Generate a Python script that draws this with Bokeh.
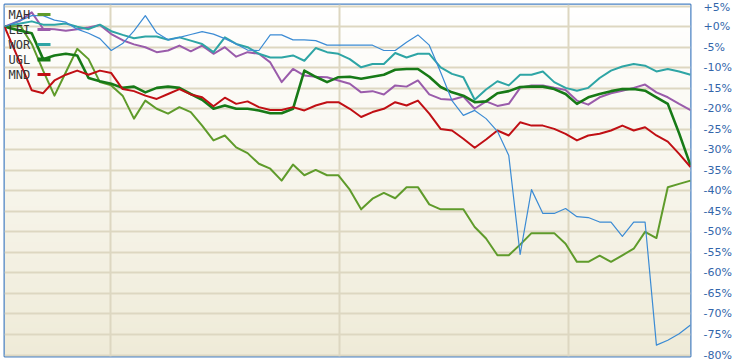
import numpy as np
from bokeh.plotting import figure
from bokeh.models import FixedTicker, Range1d, Label, BoxAnnotation, CustomJSTickFormatter
from bokeh.embed import file_html
from bokeh.resources import INLINE

# ---- data (percent change, weekly points) ----
weeks = [0] + [i + 0.4 for i in range(1, 61)]

mah = [0, 0.2, -4.2, -10.7, -16.8, -11.1, -5.4, -7.9, -13.5, -14.3, -16.8, -22.4, -18.0, -20.0, -21.2,
       -19.6, -20.8, -24.1, -27.7, -26.5, -29.4, -30.8, -33.4, -34.6, -37.5, -33.6, -36.2, -34.9, -36.2,
       -36.2, -39.7, -44.5, -41.9, -40.5, -41.8, -39.1, -39.1, -43.3, -44.5, -44.5, -44.5, -48.8, -51.6,
       -55.7, -55.7, -53.1, -50.3, -50.3, -50.3, -52.9, -57.3, -57.3, -55.8, -57.3, -55.7, -54.1, -50.0,
       -51.5, -39.1, -38.3, -37.5]
lei = [0, 1.5, 3.5, -0.5, -0.6, -1.0, -0.6, -0.2, 0.4, -1.8, -3.3, -4.3, -5.0, -6.2, -5.8, -4.6, -6.0,
       -4.6, -6.6, -5.0, -7.3, -6.2, -6.6, -8.7, -13.5, -10.3, -11.9, -12.2, -12.3, -13.1, -13.9, -16.0,
       -15.7, -16.5, -14.3, -14.6, -13.1, -16.5, -17.6, -17.8, -17.0, -20.0, -18.2, -19.3, -18.8, -14.9,
       -14.3, -14.3, -14.9, -15.4, -18.0, -19.0, -17.2, -16.2, -15.6, -14.9, -14.1, -16.0, -17.2, -18.8,
       -20.3]
wor = [0, 0.8, 1.3, 0.5, 0.5, 0.8, 0, -0.6, 0.5, -1.1, -2.0, -2.8, -2.4, -2.4, -3.2, -2.6, -3.4, -4.2,
       -6.2, -2.6, -4.2, -5.0, -6.6, -7.5, -7.5, -7.0, -8.3, -5.2, -6.2, -6.6, -7.9, -9.9, -9.1, -9.1,
       -6.4, -7.5, -6.6, -6.6, -9.9, -11.5, -12.3, -17.8, -15.3, -13.3, -14.3, -11.7, -11.7, -10.9, -13.5,
       -14.9, -15.6, -14.9, -12.5, -10.7, -9.7, -9.1, -9.5, -10.9, -10.3, -10.9, -11.7]
ugl = [0, -1.0, -1.6, -7.9, -7.0, -6.6, -7.0, -12.5, -13.3, -13.9, -14.9, -14.6, -16.0, -14.9, -14.6,
       -14.9, -16.4, -17.8, -20.0, -19.2, -20.0, -20.0, -20.4, -21.1, -21.1, -20.0, -10.7, -12.2, -13.5,
       -12.3, -12.2, -12.7, -12.2, -11.7, -10.5, -10.3, -10.3, -12.2, -14.7, -16.0, -16.8, -18.4, -18.2,
       -16.2, -15.7, -14.7, -14.6, -14.6, -15.2, -16.4, -18.8, -17.2, -16.4, -15.7, -15.2, -15.2, -15.6,
       -17.2, -18.8, -26.0, -33.8]
mnd = [0, -9.0, -15.5, -16.2, -13.1, -11.7, -10.7, -11.7, -10.7, -11.3, -15.2, -15.7, -16.8, -17.6,
       -16.4, -15.2, -16.5, -17.2, -19.4, -17.3, -18.8, -18.2, -19.6, -20.3, -20.3, -19.6, -20.4, -19.2,
       -18.4, -18.4, -20.0, -22.0, -20.8, -20.0, -18.4, -19.2, -18.0, -21.2, -24.9, -25.3, -27.3, -29.5,
       -27.5, -25.3, -26.5, -23.3, -24.1, -24.1, -24.9, -26.1, -27.7, -26.5, -26.1, -25.3, -24.1, -25.3,
       -24.5, -26.5, -28.0, -31.0, -34.2]
index = [0, 1.5, 2.7, 2.7, 1.6, 1.1, -0.6, -1.6, -2.9, -5.8, -4.1, -1.0, 2.7, -1.5, -3.2, -2.6, -1.9,
         -1.2, -1.8, -2.9, -4.2, -5.7, -5.8, -2.0, -2.0, -3.2, -3.2, -3.4, -4.5, -4.5, -4.5, -4.5, -4.5,
         -5.8, -5.8, -3.8, -2.0, -4.5, -11.1, -18.0, -21.6, -20.4, -22.4, -25.5, -31.4, -55.5, -39.7,
         -45.5, -45.5, -44.3, -46.3, -46.5, -47.6, -47.6, -51.1, -47.6, -47.6, -77.6, -76.4, -74.8, -72.7]

legend_names = ["MAH", "LEI", "WOR", "UGL", "MND"]
y_ticks = [5, 0, -5, -10, -15, -20, -25, -30, -35, -40, -45, -50, -55, -60, -65, -70, -75, -80]
x_grid_ticks = [9.33, 29.5, 49.67]

# ---- styles ----
series = [
    ("LEI", lei, "#9a5cab", 2.0),
    ("WOR", wor, "#2ea5a5", 2.0),
    ("MAH", mah, "#5f9b2b", 2.0),
    ("UGL", ugl, "#177a17", 2.6),
    ("MND", mnd, "#c00f14", 2.0),
    ("IDX", index, "#3b8bd4", 1.2),
]
colors = {name: c for name, _, c, _ in series}
widths = {name: w for name, _, _, w in series}

x_start, x_end = 0, weeks[-1]
y_start, y_end = -80.36, 5.41

p = figure(width=737, height=364, output_backend="svg", toolbar_location=None,
           x_range=Range1d(x_start, x_end), y_range=Range1d(y_start, y_end),
           x_axis_location=None, y_axis_location="right",
           min_border_left=4, min_border_top=4, min_border_bottom=8, min_border_right=47)

p.background_fill_color = "#f8f6ee"
p.border_fill_color = "#ffffff"
p.outline_line_color = "#4a82c4"
p.outline_line_width = 2

# vertical gradient background (white top -> cream bottom)
rows = 176
t = np.linspace(0.0, 1.0, rows)[:, None]
bottom_c = np.array([239, 235, 216], dtype=float)
top_c = np.array([255, 255, 255], dtype=float)
img = np.empty((rows, 1), dtype=np.uint32)
view = img.view(dtype=np.uint8).reshape((rows, 1, 4))
for k in range(3):
    view[:, :, k] = np.round(bottom_c[k] + (top_c[k] - bottom_c[k]) * t).astype(np.uint8)
view[:, :, 3] = 255
p.image_rgba(image=[img], x=x_start, y=y_start, dw=x_end - x_start, dh=y_end - y_start, level="image")

# grids
p.ygrid.ticker = FixedTicker(ticks=y_ticks)
p.ygrid.grid_line_color = "#ddd7c1"
p.ygrid.grid_line_width = 2
p.xgrid.ticker = FixedTicker(ticks=x_grid_ticks)
p.xgrid.grid_line_color = "#ddd7c1"
p.xgrid.grid_line_width = 2

# right axis
ax = p.yaxis[0]
ax.ticker = FixedTicker(ticks=y_ticks)
ax.formatter = CustomJSTickFormatter(code="return (tick >= 0 ? '+' : '') + tick.toFixed(0) + '%';")
ax.axis_line_color = None
ax.major_tick_line_color = None
ax.minor_tick_line_color = None
ax.major_tick_out = 0
ax.major_tick_in = 0
ax.major_label_standoff = 13
ax.major_label_text_color = "#3366aa"
ax.major_label_text_font = "DejaVu Sans"
ax.major_label_text_font_size = "11px"

for name, vals, color, w in series:
    p.line(weeks, vals, line_color=color, line_width=w, line_join="round")

# legend (label, then swatch)
frame_h = 364 - 4 - 8
for k, name in enumerate(legend_names):
    yc = frame_h - (10 + 15 * k)
    p.add_layout(Label(x=4, y=yc, x_units="screen", y_units="screen", text=name,
                       text_font="DejaVu Sans Mono", text_font_size="12px",
                       text_color="#333333", text_baseline="middle", text_align="left"))
    h = 1.6 if name != "UGL" else 2.0
    p.add_layout(BoxAnnotation(left=33, right=46, top=yc + h, bottom=yc - h,
                               left_units="screen", right_units="screen",
                               top_units="screen", bottom_units="screen",
                               fill_color=colors[name], fill_alpha=1.0,
                               line_color=None, level="annotation"))

open("out.html", "w").write(file_html(p, INLINE))
